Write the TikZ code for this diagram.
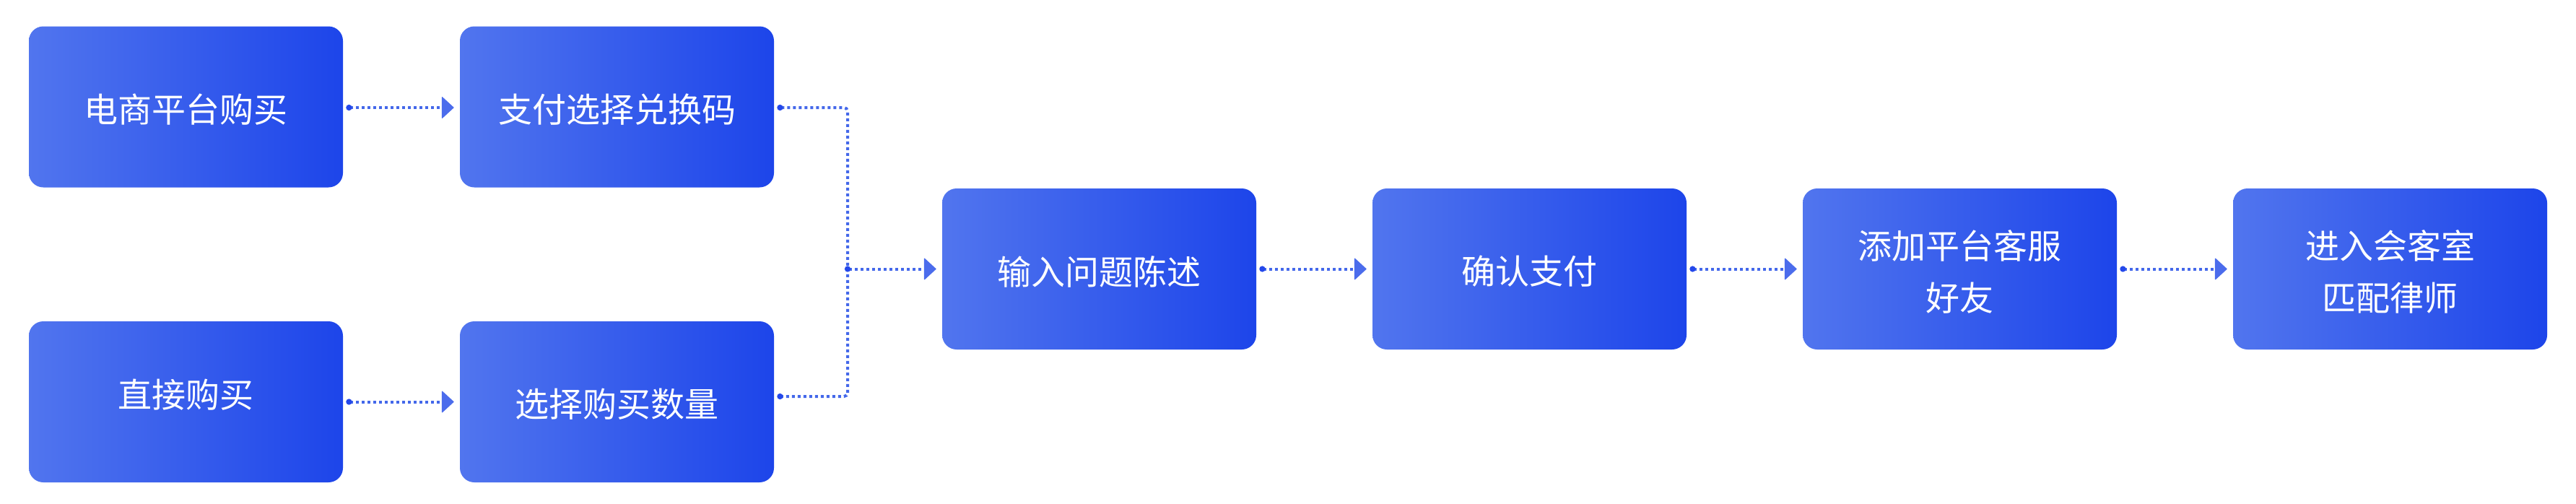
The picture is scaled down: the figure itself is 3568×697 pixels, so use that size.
\documentclass[tikz,border=0pt]{standalone}
\usepackage{fontspec}
\newfontfamily\cjk{Noto Sans CJK SC}
\usetikzlibrary{arrows.meta}
\definecolor{gL}{HTML}{5175EE}
\definecolor{gR}{HTML}{1D45EA}
\definecolor{lineC}{HTML}{4468EA}
\definecolor{dotC}{HTML}{2448EA}
\definecolor{arrC}{HTML}{4B6CEC}
\begin{document}
\begin{tikzpicture}[x=0.5pt,y=-0.5pt,
  box/.style={rounded corners=10pt, minimum width=217.5pt, minimum height=111.5pt,
    inner sep=0pt, left color=gL, right color=gR, draw=none},
  lbl/.style={text=white, font=\cjk\fontsize{23.5pt}{36pt}\selectfont, align=center, inner sep=0pt},
  dotS/.style={Circle[length=4pt,color=dotC]},
  conn/.style={draw=lineC, line width=2pt, dash pattern=on 2pt off 2pt,
    {Circle[length=4pt,color=dotC]}-{Triangle[length=8.5pt,width=15.5pt,color=arrC,round,line width=0.6pt]}},
  elbow/.style={draw=lineC, line width=2pt, dash pattern=on 2pt off 2pt, rounded corners=2.5pt,
    {Circle[length=4pt,color=dotC]}-{Circle[length=4pt,color=dotC]}}]
\useasboundingbox (0,0) rectangle (3568,697);
% boxes
\node[box] (b1) at (257.5,148) {};
\node[box] (b2) at (854.5,148) {};
\node[box] (b3) at (257.5,556.5) {};
\node[box] (b4) at (854.5,556.5) {};
\node[box] (b5) at (1522.5,372.5) {};
\node[box] (b6) at (2118.5,372.5) {};
\node[box] (b7) at (2714.5,372.5) {};
\node[box] (b8) at (3310.5,372.5) {};
% labels
\node[lbl] (t1) at ([yshift=-2pt]b1.center) {电商平台购买};
\node[lbl] (t2) at ([yshift=-2pt]b2.center) {支付选择兑换码};
\node[lbl] (t3) at ([yshift=5pt]b3.center) {直接购买};
\node[lbl] (t4) at ([yshift=-1.75pt]b4.center) {选择购买数量};
\node[lbl] (t5) at ([yshift=-1.75pt]b5.center) {输入问题陈述};
\node[lbl] (t6) at ([yshift=-1.75pt]b6.center) {确认支付};
\node[lbl] (t7) at ([yshift=-1.75pt]b7.center) {添加平台客服\\好友};
\node[lbl] (t8) at ([yshift=-1.75pt]b8.center) {进入会客室\\匹配律师};
% junction
\coordinate (j) at (1174,372.5);
\coordinate (b2s) at ([xshift=2pt,yshift=-0.5pt]b2.east);
\coordinate (b4s) at ([xshift=2pt,yshift=3.75pt]b4.east);
% connectors
\draw[conn] ([xshift=2pt,yshift=-0.5pt]b1.east) -- ([xshift=-4pt,yshift=-0.5pt]b2.west);
\draw[conn] ([xshift=2pt]b3.east) -- ([xshift=-4pt]b4.west);
\draw[elbow] (b2s) -| (j |- b4s) -- (b4s);
\draw[conn] ([xshift=-2pt]j) -- ([xshift=-4pt]b5.west);
\draw[conn] ([xshift=2pt]b5.east) -- ([xshift=-4pt]b6.west);
\draw[conn] ([xshift=2pt]b6.east) -- ([xshift=-4pt]b7.west);
\draw[conn] ([xshift=2pt]b7.east) -- ([xshift=-4pt]b8.west);
\end{tikzpicture}
\end{document}
